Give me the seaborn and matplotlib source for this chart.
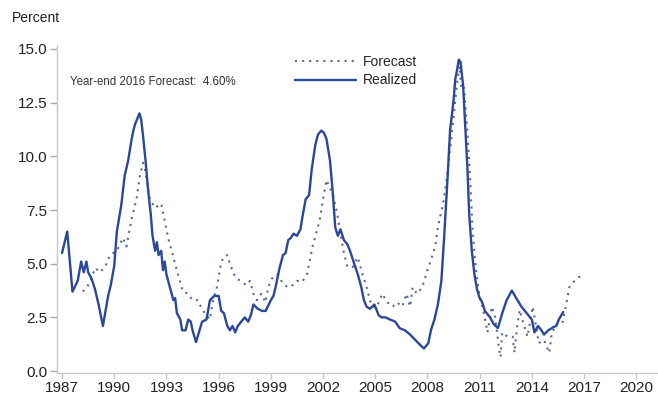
import numpy as np
import pandas as pd
import matplotlib
matplotlib.use("Agg")
import matplotlib.pyplot as plt
import seaborn as sns

# realized series
real_year = [1987.0, 1987.3, 1987.6, 1987.9, 1988.1, 1988.25, 1988.4, 1988.5, 1988.7, 1988.9,
             1989.1, 1989.35, 1989.65, 1989.8, 1990.0, 1990.15, 1990.4, 1990.6, 1990.8, 1991.0,
             1991.1, 1991.2, 1991.35, 1991.45, 1991.55, 1991.65, 1991.8, 1991.95, 1992.1, 1992.2,
             1992.35, 1992.45, 1992.55, 1992.7, 1992.8, 1992.9, 1993.0, 1993.2, 1993.4, 1993.5,
             1993.6, 1993.8, 1993.9, 1994.1, 1994.25, 1994.4, 1994.5, 1994.7, 1994.9, 1995.05,
             1995.3, 1995.5, 1995.75, 1996.0, 1996.15, 1996.3, 1996.5, 1996.65, 1996.8, 1996.95,
             1997.1, 1997.3, 1997.5, 1997.7, 1997.85, 1998.0, 1998.25, 1998.5, 1998.7, 1999.0,
             1999.15, 1999.3, 1999.5, 1999.7, 1999.85, 2000.0, 2000.15, 2000.3, 2000.5, 2000.7,
             2000.8, 2001.0, 2001.2, 2001.35, 2001.55, 2001.7, 2001.9, 2002.05, 2002.2, 2002.4,
             2002.55, 2002.7, 2002.85, 2003.0, 2003.2, 2003.4, 2003.55, 2003.75, 2004.0, 2004.2,
             2004.35, 2004.5, 2004.7, 2004.95, 2005.2, 2005.35, 2005.6, 2005.85, 2006.15, 2006.4,
             2006.7, 2007.0, 2007.3, 2007.6, 2007.8, 2008.05, 2008.2, 2008.4, 2008.6, 2008.8,
             2008.95, 2009.15, 2009.3, 2009.5, 2009.6, 2009.7, 2009.8, 2009.9, 2010.05, 2010.15,
             2010.3, 2010.4, 2010.55, 2010.7, 2010.85, 2011.0, 2011.15, 2011.3, 2011.6, 2011.8,
             2012.05, 2012.3, 2012.55, 2012.85, 2013.1, 2013.4, 2013.7, 2014.0, 2014.15, 2014.35,
             2014.55, 2014.7, 2014.95, 2015.25, 2015.4, 2015.55, 2015.8]
real_val = [5.5, 6.5, 3.7, 4.2, 5.1, 4.6, 5.1, 4.6, 4.3, 3.8,
            3.1, 2.1, 3.5, 4.0, 4.9, 6.5, 7.7, 9.1, 9.8, 10.8,
            11.2, 11.5, 11.8, 12.0, 11.7, 11.0, 9.8, 8.4, 7.3, 6.3,
            5.6, 6.0, 5.4, 5.6, 4.7, 5.1, 4.5, 3.9, 3.3, 3.4,
            2.7, 2.4, 1.9, 1.9, 2.4, 2.3, 1.9, 1.35, 1.9, 2.3,
            2.4, 3.3, 3.5, 3.5, 2.8, 2.7, 2.1, 1.9, 2.1, 1.8,
            2.1, 2.3, 2.5, 2.3, 2.6, 3.1, 2.9, 2.8, 2.8, 3.3,
            3.5, 4.0, 4.8, 5.4, 5.5, 6.1, 6.2, 6.4, 6.3, 6.6,
            7.1, 8.0, 8.2, 9.4, 10.5, 11.0, 11.2, 11.1, 10.8, 9.8,
            8.4, 6.7, 6.3, 6.6, 6.1, 5.9, 5.6, 5.1, 4.5, 3.9,
            3.3, 3.0, 2.9, 3.1, 2.6, 2.5, 2.5, 2.4, 2.3, 2.0,
            1.9, 1.7, 1.45, 1.2, 1.05, 1.3, 1.9, 2.4, 3.1, 4.2,
            6.1, 8.9, 11.2, 12.6, 13.6, 14.0, 14.5, 14.4, 13.3, 11.7,
            9.4, 7.3, 5.6, 4.5, 3.8, 3.4, 3.2, 2.8, 2.5, 2.2,
            2.0, 2.7, 3.3, 3.75, 3.4, 3.0, 2.7, 2.4, 1.8, 2.1,
            1.9, 1.7, 1.9, 2.05, 2.1, 2.4, 2.75]

# forecast series
fc_year = [1988.2, 1988.6, 1988.9, 1989.2, 1989.5, 1989.75, 1990.15, 1990.5, 1990.7, 1991.0,
           1991.3, 1991.45, 1991.65, 1991.75, 1991.9, 1992.05, 1992.35, 1992.7, 1992.9, 1993.1,
           1993.4, 1993.7, 1993.95, 1994.25, 1994.5, 1994.8, 1995.1, 1995.5, 1995.65, 1995.9,
           1996.1, 1996.25, 1996.5, 1996.65, 1996.85, 1997.05, 1997.35, 1997.6, 1997.8, 1998.0,
           1998.2, 1998.45, 1998.7, 1998.85, 1999.05, 1999.35, 1999.65, 1999.95, 2000.25, 2000.5,
           2000.8, 2001.1, 2001.25, 2001.4, 2001.6, 2001.8, 2002.0, 2002.2, 2002.4, 2002.55,
           2002.8, 2003.0, 2003.2, 2003.4, 2003.7, 2004.0, 2004.25, 2004.5, 2004.8, 2005.1,
           2005.4, 2005.7, 2006.0, 2006.25, 2006.55, 2006.8, 2007.0, 2007.15, 2007.4, 2007.7,
           2008.0, 2008.25, 2008.45, 2008.6, 2008.9, 2009.1, 2009.3, 2009.5, 2009.7, 2009.85,
           2009.95, 2010.1, 2010.3, 2010.45, 2010.6, 2010.75, 2010.9, 2011.0, 2011.2, 2011.45,
           2011.7, 2011.9, 2012.1, 2012.2, 2012.3, 2012.6, 2012.9, 2013.0, 2013.15, 2013.3,
           2013.45, 2013.75, 2014.05, 2014.25, 2014.4, 2014.7, 2015.0, 2015.15, 2015.45, 2015.75,
           2015.95, 2016.15, 2016.45, 2016.75, 2016.95]
fc_val = [3.7, 4.1, 4.8, 4.6, 4.9, 5.4, 5.6, 6.2, 5.8, 7.1,
          8.1, 9.0, 9.7, 9.5, 8.75, 8.0, 7.6, 7.8, 7.0, 6.2,
          5.3, 4.4, 3.7, 3.6, 3.3, 3.3, 2.8, 2.4, 3.2, 3.9,
          4.85, 5.3, 5.4, 5.0, 4.55, 4.3, 4.15, 4.0, 4.2, 3.6,
          3.3, 3.6, 3.2, 3.9, 4.3, 4.5, 4.15, 3.9, 4.0, 4.2,
          4.15, 4.55, 5.2, 5.8, 6.4, 7.0, 8.0, 8.9, 8.5, 8.3,
          7.4, 6.4, 5.5, 4.85, 4.85, 5.3, 4.55, 3.9, 3.0, 3.0,
          3.6, 3.2, 3.0, 3.2, 3.0, 3.6, 3.0, 3.9, 3.6, 3.9,
          4.7, 5.3, 5.8, 6.7, 7.8, 8.9, 10.3, 11.8, 13.4, 14.2,
          13.1, 13.2, 11.1, 9.0, 6.5, 5.0, 4.0, 3.45, 2.85, 1.8,
          3.0, 2.5, 1.1, 0.65, 1.8, 1.6, 1.6, 0.85, 2.05, 2.85,
          2.4, 1.6, 3.0, 2.05, 1.3, 1.45, 0.85, 1.8, 2.2, 2.2,
          3.0, 3.9, 4.2, 4.4, 4.55]

year_ticks = [1987, 1990, 1993, 1996, 1999, 2002, 2005, 2008, 2011, 2014, 2017, 2020]
pct_ticks = [0.0, 2.5, 5.0, 7.5, 10.0, 12.5, 15.0]

realized = pd.DataFrame({"year": real_year, "value": real_val})
forecast = pd.DataFrame({"year": fc_year, "value": fc_val})

sns.set_style("white")
plt.rcParams["font.family"] = ["Liberation Sans", "DejaVu Sans"]

fig = plt.figure(figsize=(6.58, 4.0), dpi=100)
ax = fig.add_axes([0.0866, 0.0675, 0.9134, 0.8208])

sns.lineplot(data=forecast, x="year", y="value", ax=ax, color="#5d6890",
             linewidth=1.5, linestyle=(0, (1, 2.4)), label="Forecast")
sns.lineplot(data=realized, x="year", y="value", ax=ax, color="#2b479b",
             linewidth=1.7, label="Realized")

ax.set_xlim(1986.71, 2021.25)
ax.set_ylim(-0.09, 15.2)
ax.set_xticks(year_ticks)
ax.set_xticklabels([str(y) for y in year_ticks])
ax.set_yticks(pct_ticks)
ax.set_yticklabels([f"{v:.1f}" for v in pct_ticks])
ax.set_xlabel("")
ax.set_ylabel("")

for s in ["top", "right"]:
    ax.spines[s].set_visible(False)
for s in ["left", "bottom"]:
    ax.spines[s].set_color("#c8c8c8")
    ax.spines[s].set_linewidth(1.0)
ax.tick_params(axis="x", length=4.5, width=1, color="#c8c8c8", pad=1.5,
               labelsize=11, labelcolor="#222222", bottom=True)
ax.tick_params(axis="y", length=5, width=1, color="#aaaaaa", pad=2,
               labelsize=11, labelcolor="#222222", left=True)

leg = ax.legend(loc="upper left", bbox_to_anchor=(0.44, 0.8775), bbox_transform=fig.transFigure,
                frameon=False, fontsize=10, handlelength=4.4, handletextpad=0.5,
                labelspacing=0.35, borderaxespad=0)

fig.text(0.018, 0.955, "Percent", fontsize=10, color="#222222", va="center", ha="left")
fig.text(0.106, 0.795, "Year-end 2016 Forecast:  4.60%", fontsize=8.3,
         color="#333333", va="center", ha="left")

fig.savefig("out.png", dpi=100)
